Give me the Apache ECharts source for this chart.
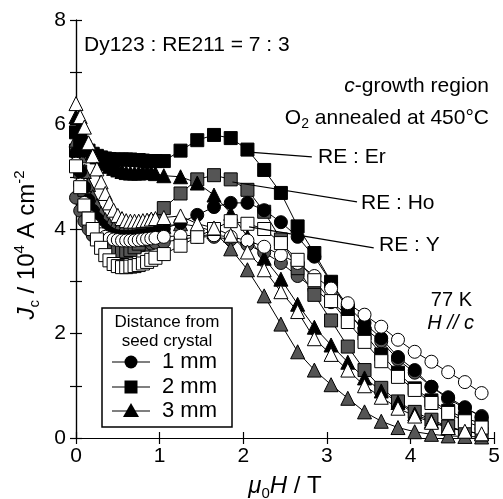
<!DOCTYPE html>
<html><head><meta charset="utf-8">
<script src="https://cdn.jsdelivr.net/npm/echarts@6/dist/echarts.min.js"></script>
<style>html,body{margin:0;padding:0;background:#fff}#c{width:503px;height:499px}</style>
</head><body><div id="c"></div>
<script>
const fieldT = [0,0.05,0.1,0.15,0.2,0.25,0.3,0.35,0.4,0.45,0.5,0.55,0.6,0.65,0.7,0.75,0.8,0.85,0.9,0.95,
  1.05,1.25,1.45,1.65,1.85,2.05,2.25,2.45,2.65,2.85,3.05,3.25,3.45,3.65,3.85,4.05,4.25,4.45,4.65,4.85];

const erOne = [5.45,5.1,4.8,4.55,4.35,4.2,4.08,3.98,3.92,3.88,3.86,3.85,3.85,3.85,3.86,3.87,3.88,3.9,3.92,3.95,
  4.0,4.12,4.27,4.42,4.5,4.5,4.36,4.13,3.85,3.47,2.98,2.52,2.2,1.91,1.55,1.3,0.98,0.78,0.59,0.4];
const erTwo = [5.85,5.7,5.58,5.5,5.44,5.4,5.37,5.35,5.34,5.33,5.33,5.33,5.33,5.33,5.32,5.32,5.31,5.3,5.3,5.3,
  5.3,5.5,5.7,5.8,5.74,5.52,5.13,4.69,4.05,3.54,2.99,2.45,2.0,1.6,1.25,0.95,0.72,0.52,0.38,0.28];
const erThree = [6.15,5.95,5.75,5.6,5.48,5.38,5.3,5.25,5.2,5.16,5.13,5.1,5.08,5.07,5.07,5.07,5.08,5.08,5.08,5.06,
  5.02,5.0,4.88,4.65,4.3,3.85,3.44,3.04,2.56,2.12,1.78,1.45,1.15,0.9,0.68,0.46,0.32,0.2,0.13,0.08];
const hoOne = [4.6,4.35,4.15,4.0,3.88,3.8,3.74,3.7,3.67,3.65,3.64,3.64,3.64,3.65,3.66,3.67,3.69,3.7,3.72,3.74,
  3.75,3.8,3.85,3.85,3.8,3.7,3.55,3.35,3.1,2.85,2.6,2.35,2.1,1.85,1.5,1.25,0.98,0.75,0.57,0.42];
const hoTwo = [5.5,5.1,4.75,4.45,4.2,4.0,3.85,3.74,3.66,3.6,3.57,3.56,3.57,3.6,3.65,3.72,3.8,3.9,4.02,4.15,
  4.4,4.68,4.95,5.03,4.95,4.75,4.33,3.8,3.25,2.74,2.25,1.75,1.3,0.96,0.7,0.5,0.35,0.22,0.13,0.08];
const hoThree = [5.7,5.4,5.1,4.85,4.62,4.45,4.3,4.18,4.08,4.02,3.98,3.95,3.94,3.94,3.95,3.96,3.98,4.0,4.02,4.04,
  4.05,4.1,4.05,3.95,3.62,3.22,2.72,2.18,1.65,1.3,1.02,0.76,0.5,0.32,0.2,0.12,0.07,0.04,0.03,0.02];
const yOne = [5.25,4.85,4.5,4.25,4.08,3.97,3.9,3.85,3.82,3.8,3.79,3.78,3.78,3.78,3.78,3.79,3.8,3.81,3.82,3.83,
  3.85,3.87,3.88,3.88,3.85,3.78,3.66,3.5,3.35,3.1,2.86,2.58,2.36,2.13,1.88,1.65,1.46,1.26,1.07,0.86];
const yTwo = [5.2,4.8,4.45,4.2,4.0,3.8,3.64,3.5,3.4,3.33,3.29,3.27,3.27,3.28,3.29,3.31,3.34,3.37,3.41,3.45,
  3.52,3.68,3.85,4.0,4.15,4.1,4.0,3.73,3.41,3.02,2.62,2.22,1.84,1.47,1.17,0.92,0.67,0.48,0.32,0.2];
const yThree = [6.4,6.15,5.95,5.65,5.4,5.15,4.9,4.68,4.5,4.36,4.26,4.2,4.16,4.15,4.15,4.15,4.16,4.17,4.19,4.2,
  4.22,4.25,4.1,4.02,3.88,3.56,3.22,2.8,2.42,1.9,1.6,1.3,1.0,0.78,0.57,0.42,0.3,0.2,0.13,0.08];

const xTicks = [0,1,2,3,4,5];
const yTickLabels = ['0','2','4','6','8'];
const legendItems = ['1 mm','2 mm','3 mm'];
const reLabels = ['RE : Er','RE : Ho','RE : Y'];
// leader lines in data space: [start, end]
const leaderEr = [[2.07,5.47],[2.82,5.38]];
const leaderHo = [[1.87,4.90],[3.36,4.52]];
const leaderY  = [[2.07,4.04],[3.56,3.64]];

const FONT = "'Liberation Sans', Arial, Helvetica, sans-serif";
const GRAY = '#555555';

function pairs(vals){ return fieldT.map((x,i)=>[x, vals[i]]); }
function mk(name, vals, symbol, fill, size){
  return {
    name, type:'line', data:pairs(vals), symbol, symbolSize:size,
    showAllSymbol:true, animation:false,
    lineStyle:{color:'#000', width:1},
    itemStyle:{color:fill, borderColor:'#000', borderWidth:1},
    emphasis:{disabled:true}
  };
}

const series = [
  mk('Ho 1 mm', hoOne, 'circle', GRAY, 13),
  mk('Ho 2 mm', hoTwo, 'rect', GRAY, 13),
  mk('Ho 3 mm', hoThree, 'triangle', GRAY, 14),
  mk('Er 1 mm', erOne, 'circle', '#000', 13),
  mk('Er 2 mm', erTwo, 'rect', '#000', 13),
  mk('Er 3 mm', erThree, 'triangle', '#000', 14),
  mk('Y 1 mm', yOne, 'circle', '#fff', 13),
  mk('Y 2 mm', yTwo, 'rect', '#fff', 13),
  mk('Y 3 mm', yThree, 'triangle', '#fff', 14),
  {
    type:'line', data:[], silent:true, animation:false,
    markLine:{
      silent:true, symbol:['none','none'], animation:false,
      lineStyle:{color:'#000', width:1.2, type:'solid'}, label:{show:false},
      data:[
        [{coord:leaderEr[0]},{coord:leaderEr[1]}],
        [{coord:leaderHo[0]},{coord:leaderHo[1]}],
        [{coord:leaderY[0]},{coord:leaderY[1]}]
      ]
    }
  }
];

const axisCommon = {
  min:0, axisLine:{lineStyle:{color:'#000', width:1.2}},
  axisTick:{inside:true, length:6, lineStyle:{color:'#000', width:1.2}},
  splitLine:{show:false}
};

const chart = echarts.init(document.getElementById('c'), null, {renderer:'canvas'});

const legendGraphics = [];
const legendSymbols = ['circle','rect','triangle'];
const rowY = [362, 387, 411];
legendGraphics.push({type:'rect', shape:{x:102, y:308, width:130, height:119},
  style:{fill:'#fff', stroke:'#000', lineWidth:1.5}, z:100});
legendGraphics.push({type:'text', x:167, y:322, style:{text:'Distance from', font:'17px '+FONT, fill:'#000', textAlign:'center', textVerticalAlign:'middle'}, z:101});
legendGraphics.push({type:'text', x:167, y:341, style:{text:'seed crystal', font:'17px '+FONT, fill:'#000', textAlign:'center', textVerticalAlign:'middle'}, z:101});
legendItems.forEach((t,i)=>{
  const y = rowY[i];
  legendGraphics.push({type:'line', shape:{x1:112, y1:y, x2:150, y2:y}, style:{stroke:'#000', lineWidth:1.2}, z:101});
  let shp;
  if (legendSymbols[i]==='circle') shp = {type:'circle', shape:{cx:131, cy:y, r:6.5}, style:{fill:'#000'}, z:102};
  else if (legendSymbols[i]==='rect') shp = {type:'rect', shape:{x:124.5, y:y-6.5, width:13, height:13}, style:{fill:'#000'}, z:102};
  else shp = {type:'polygon', shape:{points:[[131,y-8],[139,y+6],[123,y+6]]}, style:{fill:'#000'}, z:102};
  legendGraphics.push(shp);
  legendGraphics.push({type:'text', x:162, y:y, style:{text:t, font:'22px '+FONT, fill:'#000', textAlign:'left', textVerticalAlign:'middle'}, z:101});
});

const annot = [
  {type:'text', x:84, y:45, style:{text:'Dy123 : RE211 = 7 : 3', font:'21px '+FONT, fill:'#000', textAlign:'left', textVerticalAlign:'middle'}, z:90},
  {type:'text', x:489, y:86, style:{
    rich:{i:{fontStyle:'italic', fontSize:21, fontFamily:FONT, fill:'#000'}, n:{fontSize:21, fontFamily:FONT, fill:'#000'}},
    text:'{i|c}{n|-growth region}', textAlign:'right', textVerticalAlign:'middle'}, z:90},
  {type:'text', x:489, y:118, style:{
    rich:{n:{fontSize:21, fontFamily:FONT, fill:'#000', lineHeight:26}, s:{fontSize:14, fontFamily:FONT, fill:'#000', lineHeight:14, verticalAlign:'bottom'}},
    text:'{n|O}{s|2}{n| annealed at 450°C}', textAlign:'right', textVerticalAlign:'middle'}, z:90},
  {type:'text', x:318, y:157, style:{text:reLabels[0], font:'21px '+FONT, fill:'#000', textAlign:'left', textVerticalAlign:'middle'}, z:90},
  {type:'text', x:361, y:203, style:{text:reLabels[1], font:'21px '+FONT, fill:'#000', textAlign:'left', textVerticalAlign:'middle'}, z:90},
  {type:'text', x:379, y:245, style:{text:reLabels[2], font:'21px '+FONT, fill:'#000', textAlign:'left', textVerticalAlign:'middle'}, z:90},
  {type:'text', x:472, y:300, style:{text:'77 K', font:'20px '+FONT, fill:'#000', textAlign:'right', textVerticalAlign:'middle'}, z:90},
  {type:'text', x:474, y:323, style:{text:'H // c', font:'italic 20px '+FONT, fill:'#000', textAlign:'right', textVerticalAlign:'middle'}, z:90},
  // axis titles
  {type:'text', x:285, y:486, style:{
    rich:{i:{fontStyle:'italic', fontSize:24, fontFamily:FONT, fill:'#000', lineHeight:30},
          s:{fontSize:15, fontFamily:FONT, fill:'#000', lineHeight:15, verticalAlign:'bottom'},
          n:{fontSize:24, fontFamily:FONT, fill:'#000', lineHeight:30}},
    text:'{i|μ}{s|0}{i|H}{n| / T}', textAlign:'center', textVerticalAlign:'middle'}, z:90},
  {type:'text', x:27, y:245, rotation:Math.PI/2, style:{
    rich:{i:{fontStyle:'italic', fontSize:24, fontFamily:FONT, fill:'#000', lineHeight:30},
          s:{fontSize:15, fontFamily:FONT, fill:'#000', lineHeight:15, verticalAlign:'bottom'},
          p:{fontSize:15, fontFamily:FONT, fill:'#000', lineHeight:15, verticalAlign:'top'},
          n:{fontSize:24, fontFamily:FONT, fill:'#000', lineHeight:30}},
    text:'{i|J}{s|c}{n| / 10}{p|4}{n| A cm}{p|-2}', textAlign:'center', textVerticalAlign:'middle'}, z:90}
];

chart.setOption({
  animation:false,
  backgroundColor:'#fff',
  grid:{left:76, right:6, top:20, bottom:61, containLabel:false},
  xAxis:[
    Object.assign({}, axisCommon, {type:'value', position:'bottom', max:5, interval:1,
      axisLabel:{color:'#000', fontSize:21, fontFamily:FONT, margin:8,
        formatter:v=> xTicks.includes(v) ? String(v) : ''}}),
    Object.assign({}, axisCommon, {type:'value', position:'top', max:5, interval:1, axisLabel:{show:false}})
  ],
  yAxis:[
    Object.assign({}, axisCommon, {type:'value', position:'left', max:8, interval:1,
      axisLabel:{color:'#000', fontSize:21, fontFamily:FONT, margin:10,
        formatter:v=> (v%2===0) ? yTickLabels[v/2] : ''}}),
    Object.assign({}, axisCommon, {type:'value', position:'right', max:8, interval:1, axisLabel:{show:false}})
  ],
  series: series,
  graphic: legendGraphics.concat(annot)
});
</script></body></html>
